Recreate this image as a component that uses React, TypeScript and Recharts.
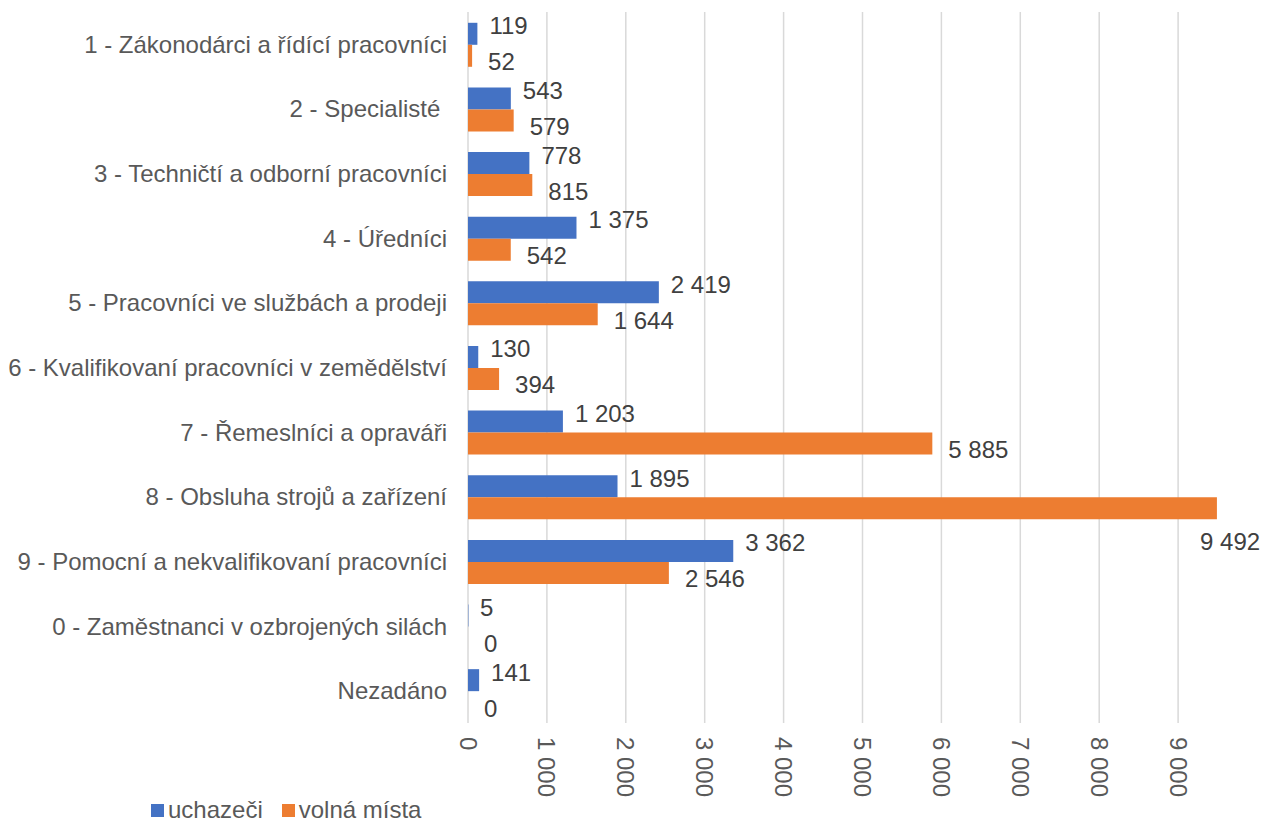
import React from 'react';
import { BarChart, Bar, XAxis, YAxis, CartesianGrid, Legend, LabelList } from 'recharts';

const categories = [
  '1 - Zákonodárci a řídící pracovníci',
  '2 - Specialisté ',
  '3 - Techničtí a odborní pracovníci',
  '4 - Úředníci',
  '5 - Pracovníci ve službách a prodeji',
  '6 - Kvalifikovaní pracovníci v zemědělství',
  '7 - Řemeslníci a opraváři',
  '8 - Obsluha strojů a zařízení',
  '9 - Pomocní a nekvalifikovaní pracovníci',
  '0 - Zaměstnanci v ozbrojených silách',
  'Nezadáno',
];
const uchazeci = [119, 543, 778, 1375, 2419, 130, 1203, 1895, 3362, 5, 141];
const volnaMista = [52, 579, 815, 542, 1644, 394, 5885, 9492, 2546, 0, 0];
const xTicks = [0, 1000, 2000, 3000, 4000, 5000, 6000, 7000, 8000, 9000];
const X_MAX = 10000;

const data = categories.map((c, i) => ({ name: c, uchazeci: uchazeci[i], volna: volnaMista[i] }));

const FONT = '"Liberation Sans", Arial, sans-serif';
const TEXT = '#595959';
const BLUE = '#4472C4';
const ORANGE = '#ED7D31';
const CHART_W = 1261;

const fmt = (n: number) => String(n).replace(/\B(?=(\d{3})+(?!\d))/g, ' ');
const textW = (s: string) => s.split('').reduce((a, ch) => a + (ch === ' ' ? 6.7 : 13.3), 0);

const makeLabel = (dx: number, dy: number) => (props: any) => {
  const { x, y, width, height, value } = props;
  const s = fmt(Number(value));
  const w0 = Number(width) > 1 ? Number(width) : 0;
  let lx = Number(x) + w0 + dx;
  let ly = Number(y) + Number(height) / 2 + dy;
  const w = textW(s);
  if (lx + w > CHART_W - 1) {
    lx = CHART_W - 1 - w;
    ly = Number(y) + Number(height) / 2 + 33;
  }
  return (
    <text x={lx} y={ly} fill="#404040" fontSize={24} fontFamily={FONT} dominantBaseline="central" textAnchor="start">
      {s}
    </text>
  );
};

const YTick = (props: any) => {
  const { x, y, payload } = props;
  return (
    <text x={x} y={y} fill={TEXT} fontSize={24} fontFamily={FONT} textAnchor="end" dominantBaseline="central" style={{ whiteSpace: 'pre' }}>
      {payload.value}
    </text>
  );
};

const XTick = (props: any) => {
  const { x, y, payload } = props;
  return (
    <g transform={`translate(${x},${y})`}>
      <text transform="rotate(90)" x={0} y={0} fill={TEXT} fontSize={24} fontFamily={FONT} textAnchor="start" dominantBaseline="central">
        {fmt(payload.value)}
      </text>
    </g>
  );
};

const LegendContent = () => (
  <div style={{ display: 'flex', alignItems: 'center', fontFamily: FONT, fontSize: 24, color: TEXT, lineHeight: '28px', whiteSpace: 'nowrap' }}>
    <span style={{ display: 'inline-block', width: 13, height: 13, background: BLUE, marginRight: 4 }} />
    <span style={{ marginRight: 19 }}>uchazeči</span>
    <span style={{ display: 'inline-block', width: 13, height: 13, background: ORANGE, marginRight: 4 }} />
    <span>volná místa</span>
  </div>
);

const gridX = (props: any) => {
  const { xAxis, offset } = props;
  if (xAxis && typeof xAxis.scale === 'function') {
    return xTicks.map((t) => xAxis.scale(t));
  }
  return xTicks.map((t) => offset.left + (t / X_MAX) * offset.width);
};

export default function App() {
  return (
    <div style={{ position: 'absolute', left: 0, top: 0, width: CHART_W, height: 821, background: '#fff' }}>
      <BarChart
        width={CHART_W}
        height={821}
        data={data}
        layout="vertical"
        margin={{ top: 12, right: 4, bottom: 0, left: 0 }}
        barCategoryGap="16.7%"
        barGap={0}
      >
        <CartesianGrid horizontal={false} vertical={true} stroke="#d9d9d9" strokeWidth={1.5} verticalCoordinatesGenerator={gridX} />
        <XAxis
          type="number"
          domain={[0, X_MAX]}
          ticks={xTicks}
          tick={<XTick />}
          tickLine={false}
          axisLine={false}
          tickSize={0}
          tickMargin={14}
          height={70}
          interval={0}
        />
        <YAxis
          type="category"
          dataKey="name"
          width={468}
          tick={<YTick />}
          tickLine={false}
          axisLine={false}
          tickSize={0}
          tickMargin={21}
          interval={0}
        />
        <Legend
          verticalAlign="bottom"
          align="left"
          height={28}
          content={<LegendContent />}
          wrapperStyle={{ left: 151, bottom: -3, width: 'auto' }}
        />
        <Bar dataKey="uchazeci" name="uchazeči" fill={BLUE} isAnimationActive={false} minPointSize={0.01}>
          <LabelList dataKey="uchazeci" content={makeLabel(12, -8)} />
        </Bar>
        <Bar dataKey="volna" name="volná místa" fill={ORANGE} isAnimationActive={false} minPointSize={0.01}>
          <LabelList dataKey="volna" content={makeLabel(16, 6)} />
        </Bar>
      </BarChart>
    </div>
  );
}
